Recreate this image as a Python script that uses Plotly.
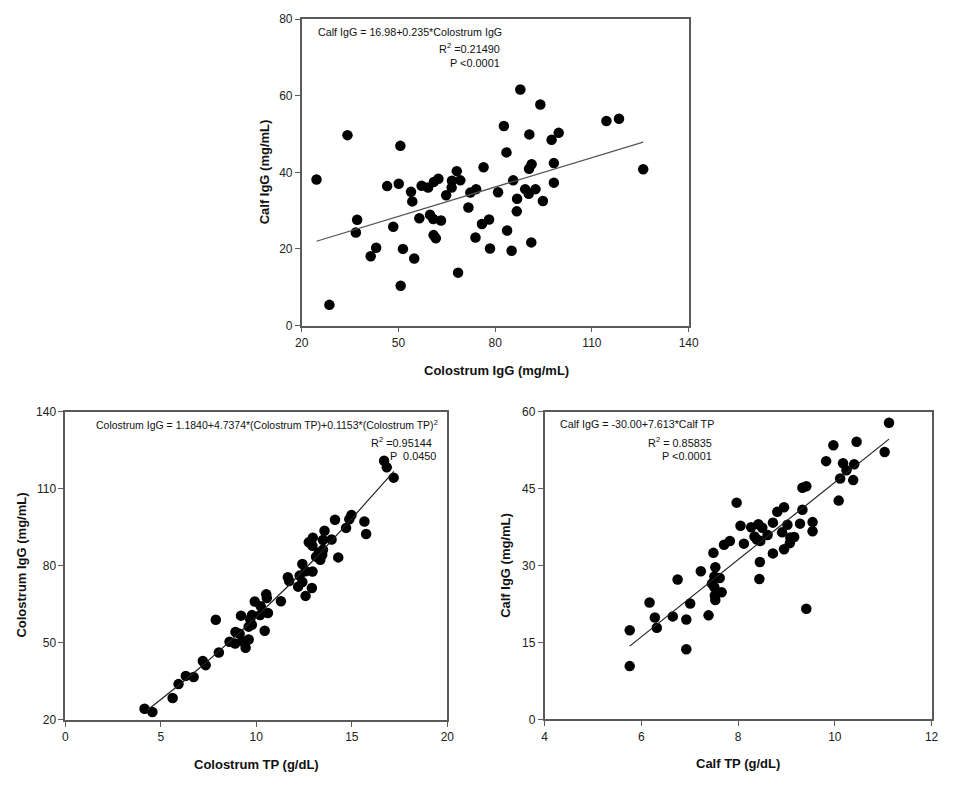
import plotly.graph_objects as go

W, H = 957, 786

# ---------------- data: top panel (Colostrum IgG vs Calf IgG) ----------------
top_x = [24.6, 34.2, 50.6, 87.8, 94.0, 82.7, 83.5, 90.6, 97.5, 99.7, 114.5, 118.4, 125.9,
         91.3, 90.5, 98.2, 98.2, 85.6, 76.4, 68.1, 69.2, 66.6, 66.5, 64.8, 62.4, 61.0,
         57.2, 59.2, 53.9, 54.3, 46.5, 50.1, 72.3, 74.1, 80.9, 89.3, 90.4, 92.5, 86.8, 94.8,
         37.2, 36.8, 48.4, 41.4, 43.1, 51.4, 54.9, 50.7, 28.6, 56.5, 59.8, 60.8, 63.2, 60.9,
         61.6, 68.5, 71.7, 73.9, 75.9, 78.1, 78.4, 83.7, 85.1, 86.7, 91.2]
top_y = [38.1, 49.7, 46.9, 61.6, 57.7, 52.1, 45.2, 49.9, 48.5, 50.3, 53.4, 54.0, 40.8,
         42.1, 40.9, 42.4, 37.3, 37.9, 41.3, 40.3, 37.9, 37.8, 36.0, 34.0, 38.3, 37.5,
         36.5, 36.0, 34.9, 32.4, 36.4, 37.0, 34.7, 35.6, 34.8, 35.6, 34.4, 35.6, 33.1, 32.5,
         27.6, 24.3, 25.8, 18.1, 20.3, 20.0, 17.5, 10.4, 5.4, 28.0, 28.9, 27.8, 27.4, 23.6,
         22.8, 13.8, 30.8, 23.0, 26.5, 27.7, 20.1, 24.8, 19.5, 29.8, 21.7]
top_line_x = [24.6, 125.9]
top_line_y = [22.0, 47.9]

# ---------------- data: bottom-left (Colostrum TP vs Colostrum IgG) ----------------
bl_x = [16.69, 16.83, 17.19, 14.12, 14.98, 14.87, 15.66, 15.75, 14.70, 13.57, 12.96, 12.75,
        12.94, 13.49, 13.94, 13.13, 13.35, 13.49, 13.27, 13.45, 14.29, 12.41, 12.58, 12.94,
        12.27, 12.41, 12.19, 12.91, 11.65, 11.72, 12.58, 10.52, 10.55, 9.92, 11.29, 10.23,
        10.20, 10.61, 9.77, 9.68, 9.20, 7.88, 9.77, 9.60, 10.44, 8.91, 9.13, 9.60, 9.29,
        8.60, 8.89, 9.44, 8.04, 7.20, 7.35, 6.31, 6.72, 5.93, 5.62, 4.15, 4.56]
bl_y = [121.0, 118.4, 114.4, 98.0, 99.8, 98.2, 97.3, 92.4, 94.8, 93.7, 91.0, 89.2,
        87.8, 90.1, 90.3, 83.6, 82.4, 86.3, 85.2, 84.3, 83.3, 80.7, 77.9, 77.8,
        76.2, 73.7, 71.9, 71.4, 75.6, 74.1, 68.3, 68.9, 67.5, 66.1, 66.2, 64.3,
        60.8, 61.6, 60.8, 59.2, 60.6, 59.0, 57.0, 56.3, 54.7, 54.2, 53.5, 51.3, 50.6,
        50.4, 49.7, 48.1, 46.2, 42.9, 41.3, 37.1, 36.7, 33.9, 28.5, 24.3, 23.0]
bl_line_x = [4.3, 7.0, 10.0, 13.0, 17.2]
bl_line_y = [23.8, 40.0, 60.1, 82.3, 116.8]

# ---------------- data: bottom-right (Calf TP vs Calf IgG) ----------------
br_x = [11.12, 11.03, 10.45, 9.97, 9.82, 10.17, 10.40, 10.24, 10.11, 10.38, 10.08, 9.33,
        9.41, 9.33, 9.54, 9.54, 9.28, 9.02, 8.95, 8.81, 8.72, 8.91, 9.08, 9.16, 9.07, 8.95,
        8.72, 8.61, 8.50, 8.42, 8.27, 8.34, 8.39, 8.46, 8.45, 8.44, 7.97, 8.05, 8.12, 7.83,
        7.71, 7.49, 7.53, 7.51, 7.62, 7.46, 7.51, 7.66, 7.52, 7.53, 7.23, 6.75, 6.17, 7.01,
        6.28, 6.65, 6.93, 7.39, 6.32, 5.76, 6.93, 5.76, 9.41]
br_y = [57.9, 52.2, 54.2, 53.5, 50.4, 50.0, 49.8, 48.6, 47.0, 46.7, 42.7, 45.2,
        45.5, 40.9, 38.5, 36.7, 38.2, 38.0, 41.4, 40.5, 38.4, 36.5, 35.5, 35.6, 34.4, 33.2,
        32.4, 36.0, 37.4, 38.1, 37.5, 35.7, 35.1, 34.8, 30.7, 27.4, 42.3, 37.8, 34.3, 34.8,
        34.1, 32.5, 29.7, 27.9, 27.6, 26.5, 25.8, 24.8, 24.2, 23.3, 28.9, 27.3, 22.8, 22.6,
        19.9, 20.1, 19.5, 20.3, 17.9, 17.4, 13.7, 10.4, 21.6]
br_line_x = [5.76, 11.12]
br_line_y = [14.3, 54.7]

# ---------------- tick labels ----------------
top_xticks = [20, 50, 80, 110, 140]
top_yticks = [0, 20, 40, 60, 80]
bl_xticks = [0, 5, 10, 15, 20]
bl_yticks = [20, 50, 80, 110, 140]
br_xticks = [4, 6, 8, 10, 12]
br_yticks = [0, 15, 30, 45, 60]


def px(x):
    return x / W


def py(y):
    return 1 - y / H


FONT = "Liberation Sans, Arial, sans-serif"
marker = dict(color="black", size=10.5, line=dict(width=0))

fig = go.Figure()
fig.add_trace(go.Scatter(x=top_x, y=top_y, mode="markers", marker=marker, xaxis="x", yaxis="y"))
fig.add_trace(go.Scatter(x=top_line_x, y=top_line_y, mode="lines",
                         line=dict(color="#555555", width=1.3), xaxis="x", yaxis="y"))
fig.add_trace(go.Scatter(x=bl_x, y=bl_y, mode="markers", marker=marker, xaxis="x2", yaxis="y2"))
fig.add_trace(go.Scatter(x=bl_line_x, y=bl_line_y, mode="lines", line_shape="spline",
                         line=dict(color="#222222", width=1.2), xaxis="x2", yaxis="y2"))
fig.add_trace(go.Scatter(x=br_x, y=br_y, mode="markers", marker=marker, xaxis="x3", yaxis="y3"))
fig.add_trace(go.Scatter(x=br_line_x, y=br_line_y, mode="lines",
                         line=dict(color="#222222", width=1.2), xaxis="x3", yaxis="y3"))


def ax(dom, rng, ticks, anchor):
    return dict(domain=dom, range=rng, tickvals=ticks, showgrid=False, zeroline=False,
                showline=True, mirror=True, linecolor="#5a5a5a", linewidth=1.5,
                ticks="outside", ticklen=5, tickwidth=1.3, tickcolor="#5a5a5a",
                tickfont=dict(family=FONT, size=12, color="#222222"), anchor=anchor,
                fixedrange=True)


layout = dict(
    width=W, height=H, margin=dict(l=0, r=0, t=0, b=0),
    paper_bgcolor="white", plot_bgcolor="white", showlegend=False,
    xaxis=ax([px(300), px(694)], [20, 140], top_xticks, "y"),
    yaxis=ax([py(324.3), py(12.3)], [0, 80], top_yticks, "x"),
    xaxis2=ax([px(59.3), px(448.3)], [0, 20], bl_xticks, "y2"),
    yaxis2=ax([py(725.7), py(412.3)], [20, 140], bl_yticks, "x2"),
    xaxis3=ax([px(547.3), px(941.3)], [4, 12], br_xticks, "y3"),
    yaxis3=ax([py(725.3), py(412.3)], [0, 60], br_yticks, "x3"),
)
fig.update_layout(**layout)

ann = []


def text(x, y, s, anchor="left", size=12, angle=0):
    ann.append(dict(x=px(x), y=py(y), xref="paper", yref="paper", text=s, showarrow=False,
                    xanchor=anchor, yanchor="middle", textangle=angle, borderpad=0,
                    font=dict(family=FONT, size=size, color="#111111")))


# equations
text(316, 25, "Calf IgG = 16.98+0.235*Colostrum IgG", size=10.7)
text(503, 42, "R<sup>2</sup> =0.21490", "right", size=10.9)
text(503, 57, "P <0.0001", "right", size=10.9)

text(90, 425, "Colostrum IgG = 1.1840+4.7374*(Colostrum TP)+0.1153*(Colostrum TP)<sup>2</sup>",
     size=10.5)
text(434, 443, "R<sup>2</sup> =0.95144", "right", size=10.9)
text(438, 457, "P  0.0450", "right", size=10.9)

text(562, 425, "Calf IgG = -30.00+7.613*Calf TP", size=10.7)
text(719, 443, "R<sup>2</sup> = 0.85835", "right", size=10.9)
text(719, 457, "P <0.0001", "right", size=10.9)

# axis titles
text(498, 370, "<b>Colostrum IgG (mg/mL)</b>", "center", size=13)
text(262, 168, "<b>Calf IgG (mg/mL)</b>", "center", size=13, angle=-90)
text(254, 771, "<b>Colostrum TP (g/dL)</b>", "center", size=13)
text(15, 568, "<b>Colostrum IgG (mg/mL)</b>", "center", size=13, angle=-90)
text(744, 770, "<b>Calf TP (g/dL)</b>", "center", size=13)
text(508, 568, "<b>Calf IgG (mg/mL)</b>", "center", size=13, angle=-90)

fig.update_layout(annotations=ann)
fig.write_html(
    "out.html",
    config={"displayModeBar": False},
    post_script="document.body.style.margin='0';document.body.style.overflow='hidden';",
)
